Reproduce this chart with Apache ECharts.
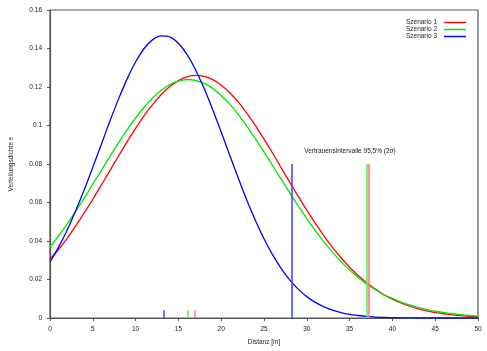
<!DOCTYPE html>
<html>
<head>
<meta charset="utf-8">
<script src="https://cdn.jsdelivr.net/npm/echarts@6/dist/echarts.min.js"></script>
<style>
  html, body { margin: 0; padding: 0; background: #fff; }
  #main { width: 487px; height: 351px; }
</style>
</head>
<body>
<div id="main"></div>
<script>
// Distanz [m], 0..50
var distanz = [0, 1, 2, 3, 4, 5, 6, 7, 8, 9, 10, 11, 12, 13, 14, 15, 16, 17, 18, 19, 20, 21, 22, 23, 24, 25,
	26, 27, 28, 29, 30, 31, 32, 33, 34, 35, 36, 37, 38, 39, 40, 41, 42, 43, 44, 45, 46, 47, 48, 49, 50];
// Verteilungsdichte je Szenario
var szenario1 = [0.0306, 0.0356, 0.0414, 0.0478, 0.0546, 0.0617, 0.0691, 0.0766, 0.0841, 0.0915, 0.0985, 0.1051, 0.1110, 0.1161, 0.1202, 0.1233, 0.1253, 0.1260, 0.1255, 0.1238, 0.1209, 0.1170, 0.1121, 0.1063, 0.0999, 0.0929,
	0.0857, 0.0781, 0.0706, 0.0632, 0.0560, 0.0491, 0.0427, 0.0367, 0.0313, 0.0264, 0.0221, 0.0183, 0.0150, 0.0121, 0.0098, 0.0078, 0.0061, 0.0048, 0.0037, 0.0028, 0.0022, 0.0016, 0.0012, 0.0009, 0.0006];
var szenario2 = [0.0369, 0.0426, 0.0488, 0.0554, 0.0623, 0.0695, 0.0767, 0.0839, 0.0910, 0.0977, 0.1039, 0.1095, 0.1144, 0.1183, 0.1213, 0.1231, 0.1239, 0.1235, 0.1219, 0.1193, 0.1156, 0.1111, 0.1057, 0.0997, 0.0930, 0.0863,
	0.0792, 0.0721, 0.0651, 0.0582, 0.0516, 0.0454, 0.0395, 0.0342, 0.0293, 0.0249, 0.0210, 0.0176, 0.0148, 0.0120, 0.0102, 0.0083, 0.0068, 0.0055, 0.0044, 0.0035, 0.0028, 0.0022, 0.0017, 0.0013, 0.0010];
var szenario3 = [0.0291, 0.0368, 0.0456, 0.0557, 0.0666, 0.0783, 0.0903, 0.1023, 0.1137, 0.1241, 0.1330, 0.1400, 0.1446, 0.1466, 0.1460, 0.1427, 0.1369, 0.1290, 0.1193, 0.1083, 0.0966, 0.0845, 0.0726, 0.0612, 0.0507, 0.0412,
	0.0329, 0.0258, 0.0198, 0.0150, 0.0111, 0.0081, 0.0058, 0.0041, 0.0028, 0.0019, 0.0013, 0.0008, 0.0005, 0.0003, 0.0002, 0.0001, 0.0001, 0, 0, 0, 0, 0, 0, 0, 0];

var namen = ['Szenario 1', 'Szenario 2', 'Szenario 3'];
// Mittelwerte (kleine Striche) und Grenze des Vertrauensintervalls
var mittelwerte = [16.95, 16.15, 13.3];
var intervallGrenzen = [37.25, 37.0, 28.26];
var intervallHoehe = 0.08;
var mittelHoehe = 0.004;

var farben = ['#ff0000', '#00e600', '#0000ff'];
var strichFarben = ['#ff7a7a', '#5cf05c', '#4a4aff'];

var werte = [szenario1, szenario2, szenario3];
var font = 'Liberation Sans';

var series = werte.map(function (reihe, i) {
	return {
		name: namen[i],
		type: 'line',
		smooth: 0.3,
		showSymbol: false,
		data: distanz.map(function (x, j) { return [x, reihe[j]]; }),
		lineStyle: { color: farben[i], width: 1.3 },
		itemStyle: { color: farben[i] },
		markLine: {
			silent: true,
			symbol: 'none',
			label: { show: false },
			lineStyle: { type: 'solid', color: strichFarben[i], width: 1.6 },
			data: [
				[{ coord: [intervallGrenzen[i], 0] }, { coord: [intervallGrenzen[i], intervallHoehe] }],
				[{ coord: [mittelwerte[i], 0] }, { coord: [mittelwerte[i], mittelHoehe] }]
			]
		}
	};
});

var myChart = echarts.init(document.getElementById('main'));
myChart.setOption({
	animation: false,
	textStyle: { fontFamily: font },
	grid: {
		left: 43, right: 9, top: 10, bottom: 30,
		show: true, borderColor: '#555', borderWidth: 1.2
	},
	legend: {
		data: namen,
		orient: 'vertical',
		align: 'right',
		right: 16,
		top: 14,
		itemGap: 0,
		itemWidth: 22,
		itemHeight: 1.5,
		icon: 'rect',
		textStyle: { fontSize: 6.5, color: '#222', lineHeight: 6.5, padding: [0, 2, 0, 0] }
	},
	xAxis: {
		type: 'value',
		min: 0, max: 50, interval: 5,
		name: 'Distanz [m]',
		nameLocation: 'middle',
		nameGap: 21,
		nameTextStyle: { fontSize: 6.5, color: '#222' },
		axisLine: { lineStyle: { color: '#555', width: 1.2 } },
		axisTick: { length: 3, lineStyle: { color: '#555' } },
		axisLabel: { fontSize: 6.5, color: '#222', margin: 8 },
		splitLine: { show: false }
	},
	yAxis: {
		type: 'value',
		min: 0, max: 0.16, interval: 0.02,
		name: 'Verteilungsdichte e',
		nameLocation: 'middle',
		nameGap: 35,
		nameTextStyle: { fontSize: 6.5, color: '#222' },
		axisLine: { show: true, lineStyle: { color: '#555', width: 1.2 } },
		axisTick: { show: true, length: 3, lineStyle: { color: '#555' } },
		axisLabel: { fontSize: 6.5, color: '#222', margin: 8 },
		splitLine: { show: false }
	},
	graphic: [{
		type: 'text',
		x: 350, y: 151,
		style: {
			text: 'Vertrauensintervalle 95,5% (2σ)',
			font: '6.5px "Liberation Sans"',
			fill: '#222',
			textAlign: 'center',
			textVerticalAlign: 'middle'
		}
	}],
	series: series
});
</script>
</body>
</html>
